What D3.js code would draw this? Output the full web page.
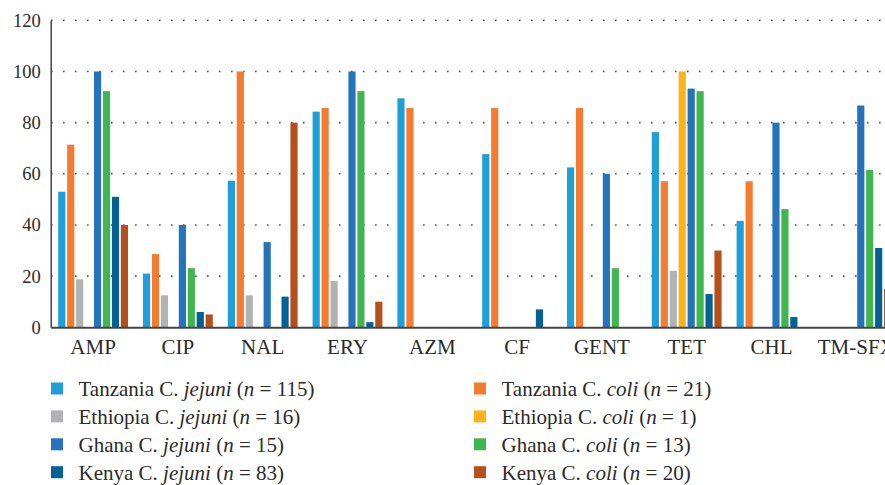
<!DOCTYPE html>
<html>
<head>
<meta charset="utf-8">
<script src="https://cdn.jsdelivr.net/npm/d3@7"></script>
<style>
  body { margin: 0; background: #fff; }
</style>
</head>
<body>
<div id="chart"></div>
<script>
var svgWidth = 885;
var svgHeight = 485;
var serif = '"Liberation Serif"';

// antibiotics along the x axis
var categories = ["AMP", "CIP", "NAL", "ERY", "AZM", "CF", "GENT", "TET", "CHL", "TM-SFX"];
var yTicks = [0, 20, 40, 60, 80, 100, 120];

// % resistant, one array per series, same order as categories
var tanzaniaJejuni = [53, 21, 57.3, 84.3, 89.5, 67.7, 62.5, 76.3, 41.6, 0];
var tanzaniaColi   = [71.4, 28.6, 100, 85.7, 85.7, 85.7, 85.7, 57.1, 57.1, 0];
var ethiopiaJejuni = [18.75, 12.5, 12.5, 18.1, 0, 0, 0, 22.1, 0, 0];
var ethiopiaColi   = [0, 0, 0, 0, 0, 0, 0, 100, 0, 0];
var ghanaJejuni    = [100, 40, 33.3, 100, 0, 0, 60, 93.3, 80, 86.7];
var ghanaColi      = [92.3, 23.1, 0, 92.3, 0, 0, 23.1, 92.3, 46.2, 61.5];
var kenyaJejuni    = [51, 6, 12, 2, 0, 7, 0, 13, 4, 31];
var kenyaColi      = [40, 5, 80, 10, 0, 0, 0, 30, 0, 15];

var seriesNames = ["Tanzania", "Tanzania", "Ethiopia", "Ethiopia", "Ghana", "Ghana", "Kenya", "Kenya"];
var seriesSpecies = ["jejuni", "coli", "jejuni", "coli", "jejuni", "coli", "jejuni", "coli"];
var seriesN = [115, 21, 16, 1, 15, 13, 83, 20];
var seriesColors = ["#1f9fd9", "#f47b30", "#b1b2b5", "#fcb31b", "#2473bb", "#41b650", "#036196", "#b54f1b"];
var seriesValues = [tanzaniaJejuni, tanzaniaColi, ethiopiaJejuni, ethiopiaColi,
  ghanaJejuni, ghanaColi, kenyaJejuni, kenyaColi];

var svg = d3.select("#chart")
  .append("svg")
  .attr("width", svgWidth)
  .attr("height", svgHeight)
  .style("font-family", serif);

var x0 = d3.scaleBand()
  .domain(categories)
  .range([50.7, 898.7])
  .padding(0);

var x1 = d3.scaleBand()
  .domain(d3.range(seriesValues.length))
  .range([7.5, 77.3])
  .paddingInner(0.2);

var y = d3.scaleLinear()
  .domain([0, 120])
  .range([327.3, 20.3]);

// dotted grid lines
svg.append("g")
  .selectAll("line")
  .data(yTicks.slice(1))
  .join("line")
  .attr("x1", 51)
  .attr("x2", svgWidth)
  .attr("y1", d => y(d))
  .attr("y2", d => y(d))
  .attr("stroke", "#555")
  .attr("stroke-width", 1.6)
  .attr("stroke-dasharray", "1.6 10.4");

// y tick labels
var leftAxis = d3.axisLeft(y).tickValues(yTicks).tickSize(0).tickPadding(10);
var yAxis = svg.append("g")
  .attr("transform", "translate(50.7,0)")
  .call(leftAxis)
  .attr("font-family", null);
yAxis.select(".domain").attr("stroke", "#444").attr("stroke-width", 1.5);
yAxis.selectAll("text")
  .style("font-family", serif)
  .style("font-size", "18.5px")
  .attr("fill", "#2b2b2b");

// bars
var groups = svg.append("g")
  .selectAll("g")
  .data(categories)
  .join("g")
  .attr("transform", d => `translate(${x0(d)},0)`);

groups.selectAll("rect")
  .data((d, i) => seriesValues.map((vals, s) => ({ s: s, v: vals[i] })))
  .join("rect")
  .filter(d => d.v > 0)
  .attr("x", d => x1(d.s))
  .attr("y", d => y(d.v))
  .attr("width", x1.bandwidth())
  .attr("height", d => y(0) - y(d.v))
  .attr("fill", d => seriesColors[d.s]);

// x axis
var bottomAxis = d3.axisBottom(x0).tickSize(0).tickPadding(12);
var xAxis = svg.append("g")
  .attr("transform", `translate(0,${y(0)})`)
  .call(bottomAxis)
  .attr("font-family", null);
xAxis.select(".domain").attr("stroke", "#444").attr("stroke-width", 2);
xAxis.selectAll("text")
  .style("font-family", serif)
  .style("font-size", "21px")
  .attr("fill", "#2b2b2b");

// legend: jejuni on the left, coli on the right
var legend = svg.append("g")
  .selectAll("g")
  .data(d3.range(seriesValues.length))
  .join("g")
  .attr("transform", s => `translate(${s % 2 === 0 ? 51 : 474},${382.5 + Math.floor(s / 2) * 27.9})`);

legend.append("rect")
  .attr("width", 12)
  .attr("height", 12)
  .attr("fill", s => seriesColors[s]);

var label = legend.append("text")
  .attr("x", 27.5)
  .attr("y", 13.5)
  .attr("fill", "#2b2b2b")
  .style("font-family", serif)
  .style("font-size", "21px");
label.append("tspan").text(s => seriesNames[s] + " C. ");
label.append("tspan").style("font-style", "italic").text(s => seriesSpecies[s]);
label.append("tspan").text(" (");
label.append("tspan").style("font-style", "italic").text("n");
label.append("tspan").text(s => " = " + seriesN[s] + ")");
</script>
</body>
</html>
